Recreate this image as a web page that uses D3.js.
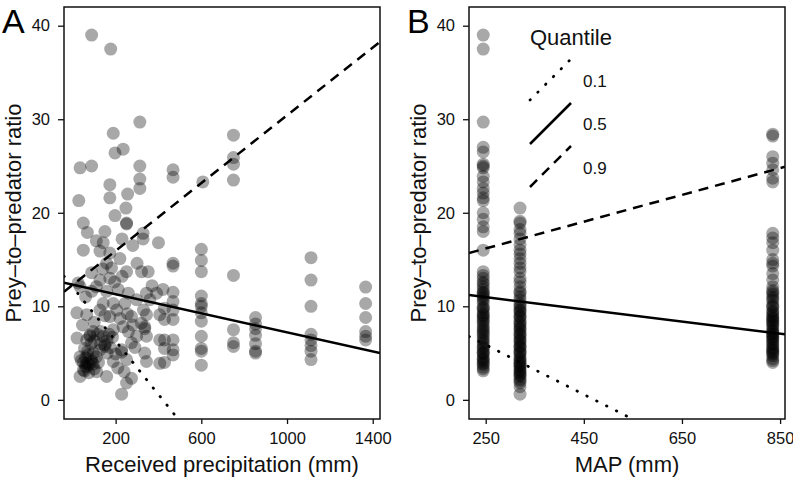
<!DOCTYPE html>
<html>
<head>
<meta charset="utf-8">
<script src="https://cdn.jsdelivr.net/npm/d3@7"></script>
<style>
  html, body { margin: 0; padding: 0; background: #fff; }
  svg { display: block; }
  text { font-family: "Liberation Sans", Arial, Helvetica, sans-serif; }
</style>
</head>
<body>
<svg id="chart" width="793" height="481"></svg>
<script>
// ---------------- DATA ----------------
// Panel A: received precipitation (mm) and prey-to-predator ratio
const precipA = [
  88,177,313,189,235,197,34,88,313,313,313,173,173,256,28,248,197,251,251,49,68,150,328,328,468,468,607,750,750,750,750,
  49,142,127,173,220,158,181,88,251,321,352,127,173,25,34,88,158,212,259,344,391,421,
  142,189,243,298,360,19,65,127,173,220,274,344,406,
  20,80,80,142,189,235,298,336,336,344,406,150,150,228,228,274,336,34,40,65,65,96,49,34,112,158,189,251,274,251,228,344,406,
  55,70,85,60,95,75,110,125,100,115,130,160,175,200,210,240,260,280,290,320,330,370,100,45,150,205,255,60,110,195,230,140,300,280,230,110,400,
  50,60,75,90,70,55,85,100,120,65,95,130,170,185,160,
  468,468,468,468,468,468,468,468,468,
  428,428,428,428,428,
  600,600,600,600,600,600,600,600,600,600,600,600,
  750,750,750,750,
  853,853,853,853,853,853,853,
  1112,1112,1112,1112,1112,1112,1112,1112,
  1367,1367,1367,1367,1367,1367
];
const ratioA = [
  39.0,37.5,29.7,28.5,26.8,26.4,24.8,25.0,25.0,23.6,22.6,23.0,21.6,22.0,21.3,20.5,19.7,18.8,18.9,18.9,17.9,18.0,17.8,17.2,24.6,23.8,23.3,28.3,25.9,25.2,23.5,
  16.0,16.8,15.9,15.7,15.1,14.6,14.1,13.6,13.7,13.7,13.7,12.8,13.0,12.5,12.1,11.6,11.6,11.8,11.4,11.4,11.4,11.8,
  10.3,10.3,10.3,10.7,10.7,9.3,9.1,9.6,8.9,8.7,8.9,9.1,9.1,
  6.6,6.95,6.8,6.8,7.5,7.8,6.8,7.8,7.6,6.8,6.4,5.7,5.9,5.35,5.1,6.1,5.0,4.6,4.2,3.9,3.5,5.0,3.2,2.5,3.0,2.5,4.1,4.3,2.3,1.8,0.6,4.1,3.9,
  5.5,4.8,4.3,3.6,3.8,2.9,4.6,5.3,6.3,7.0,7.3,6.3,5.6,4.9,3.4,3.0,7.3,8.0,5.6,8.2,9.6,12.2,8.3,8.0,9.0,9.6,9.2,11.0,12.1,12.6,13.2,14.0,14.6,16.5,17.2,17.0,16.8,
  4.0,4.5,3.8,4.1,5.2,3.1,6.0,3.3,4.0,6.4,7.3,6.0,7.0,6.7,5.0,
  14.6,14.3,11.5,10.5,9.6,8.6,6.4,5.35,4.8,
  9.8,8.6,6.4,5.5,4.0,
  16.1,14.9,13.7,11.1,10.3,10.0,9.3,8.4,6.8,5.5,5.2,3.7,
  13.3,7.5,6.1,5.7,
  8.8,8.1,7.6,6.9,6.0,5.2,5.0,
  15.2,12.8,10.0,7.0,6.4,5.8,5.2,4.3,
  12.05,10.3,8.8,7.3,6.8,6.4
];

// Panel B: mean annual precipitation (MAP, mm) sites and ratios
const mapSites = [245, 320, 835];
const ratioB245 = [39.0,37.5,29.7,27.0,26.5,25.2,25.0,24.8,23.9,23.3,22.6,22.1,21.6,21.3,20.0,19.3,18.5,18.0,16.0,
  13.7,13.3,13.0,12.6,12.1,11.8,11.5,11.2,11.0,10.6,10.3,9.9,9.6,9.3,9.1,8.8,8.6,8.2,7.9,7.5,7.3,6.9,6.6,6.4,6.0,5.7,5.4,5.1,4.9,4.6,4.3,4.1,3.8,3.5,3.1,
  4.4,5.0,5.6,6.2,7.1,7.7,8.4,9.0,9.8,10.8,11.4,12.4,3.3,3.9];
const ratioB320 = [20.5,19.1,18.9,18.2,17.8,17.2,16.6,16.0,15.6,15.1,14.6,14.1,13.7,13.0,12.6,12.1,11.6,11.4,11.0,10.7,10.3,9.9,9.6,9.3,9.0,8.7,8.4,8.0,7.8,7.5,7.2,6.9,6.6,6.4,6.1,5.8,5.6,5.3,5.0,4.8,4.5,4.2,4.0,3.7,3.4,3.1,2.8,2.5,2.2,1.8,1.4,0.6,
  2.0,2.6,3.2,3.9,4.4,5.1,5.7,6.3,7.0,7.6,8.2,8.9,9.5,10.1,3.6,2.9];
const ratioB835 = [28.4,28.2,26.0,25.3,24.6,23.7,23.3,17.8,17.3,16.8,16.0,15.0,14.6,14.3,13.5,12.8,12.1,11.7,11.3,11.0,10.6,10.2,9.9,9.5,9.2,8.8,8.5,8.2,7.9,7.6,7.3,7.0,6.8,6.5,6.2,5.9,5.6,5.3,5.0,4.7,4.4,4.0,
  4.2,4.9,5.5,6.0,6.7,7.4,8.0,8.7,9.4,10.0,10.8,11.5,5.2,6.4,7.1,8.4,9.0];

// Quantile regression lines (intercept, slope)
const quantiles = ["0.1", "0.5", "0.9"];
const interceptA = [12.05, 12.3, 12.3];
const slopeA = [-0.0287, -0.00509, 0.01812];
const interceptB = [12.5, 12.6, 12.6];
const slopeB = [-0.0265, -0.0065, 0.01432];

const yTicks = [0, 10, 20, 30, 40];
const xTicksA = [200, 600, 1000, 1400];
const xTicksB = [250, 450, 650, 850];

// ---------------- DRAW ----------------
const svg = d3.select("#chart");
svg.append("rect").attr("width", 793).attr("height", 481).attr("fill", "#fff");

const plotTop = 7, plotBottom = 419;
const y = d3.scaleLinear().domain([-2.05, 42.0]).range([plotBottom, plotTop]);
const xA = d3.scaleLinear().domain([-41, 1434]).range([64, 380]);
const xB = d3.scaleLinear().domain([216, 860]).range([469, 785]);

const dashStyles = ["0.5,10.5", null, "10,7"];
const caps = ["round", "butt", "butt"];

const pointsA = precipA.map((p, i) => ({x: p, y: ratioA[i]}));
const pointsB = [];
[ratioB245, ratioB320, ratioB835].forEach((arr, k) => arr.forEach(v => pointsB.push({x: mapSites[k], y: v})));

function panel(id, x, points, xTicks, intercepts, slopes, xTitle, letter) {
  const [x0, x1] = x.range();
  const g = svg.append("g");

  svg.append("clipPath").attr("id", "clip" + id)
    .append("rect").attr("x", x0).attr("y", plotTop).attr("width", x1 - x0).attr("height", plotBottom - plotTop);

  // points
  g.append("g").selectAll("circle").data(points).join("circle")
    .attr("cx", d => x(d.x)).attr("cy", d => y(d.y)).attr("r", 6.5)
    .attr("fill", "#000").attr("fill-opacity", 0.34);

  // quantile lines
  const lg = g.append("g").attr("clip-path", `url(#clip${id})`);
  const dom = x.domain();
  quantiles.forEach((q, i) => {
    lg.append("line")
      .attr("x1", x(dom[0])).attr("y1", y(intercepts[i] + slopes[i] * dom[0]))
      .attr("x2", x(dom[1])).attr("y2", y(intercepts[i] + slopes[i] * dom[1]))
      .attr("stroke", "#000").attr("stroke-width", i === 0 ? 2.8 : 2.5)
      .attr("stroke-linecap", caps[i])
      .attr("stroke-dasharray", dashStyles[i]);
  });

  // border
  g.append("rect").attr("x", x0).attr("y", plotTop).attr("width", x1 - x0).attr("height", plotBottom - plotTop)
    .attr("fill", "none").attr("stroke", "#111").attr("stroke-width", 1.5);

  // axes
  const ay = g.append("g").attr("transform", `translate(${x0},0)`)
    .call(d3.axisLeft(y).tickValues(yTicks).tickFormat(d3.format("d")).tickSize(6).tickPadding(8));
  const ax = g.append("g").attr("transform", `translate(0,${plotBottom})`)
    .call(d3.axisBottom(x).tickValues(xTicks).tickFormat(d3.format("d")).tickSize(5).tickPadding(8));
  [ay, ax].forEach(a => {
    a.select(".domain").remove();
    a.selectAll("line").attr("stroke", "#111").attr("stroke-width", 1.3);
    a.selectAll("text").attr("font-size", 16.5).attr("fill", "#111")
      .attr("font-family", '"Liberation Sans", Arial, sans-serif');
  });

  // titles
  g.append("text").attr("x", (x0 + x1) / 2).attr("y", 471.5).attr("text-anchor", "middle")
    .attr("font-size", 22).attr("fill", "#111").text(xTitle);
  g.append("text").attr("transform", `translate(${x0 - 43},213) rotate(-90)`).attr("text-anchor", "middle")
    .attr("font-size", 22).attr("fill", "#111").text("Prey\u2013to\u2013predator ratio");
  g.append("text").attr("x", x0 - 62).attr("y", 33).attr("font-size", 34).attr("fill", "#000").text(letter);
}

panel("A", xA, pointsA, xTicksA, interceptA, slopeA, "Received precipitation (mm)", "A");
panel("B", xB, pointsB, xTicksB, interceptB, slopeB, "MAP (mm)", "B");

// legend
const leg = svg.append("g");
leg.append("text").attr("x", 530).attr("y", 45).attr("font-size", 22).attr("fill", "#111").text("Quantile");
const keyY = [100, 144, 187];
const labY = [86.7, 130, 174];
quantiles.forEach((q, i) => {
  leg.append("line").attr("x1", 530).attr("y1", keyY[i]).attr("x2", 571).attr("y2", keyY[i] - 41)
    .attr("stroke", "#000").attr("stroke-width", i === 0 ? 2.8 : 2.5)
    .attr("stroke-linecap", caps[i]).attr("stroke-dasharray", dashStyles[i]);
  leg.append("text").attr("x", 583).attr("y", labY[i]).attr("font-size", 17).attr("fill", "#111").text(q);
});
</script>
</body>
</html>
